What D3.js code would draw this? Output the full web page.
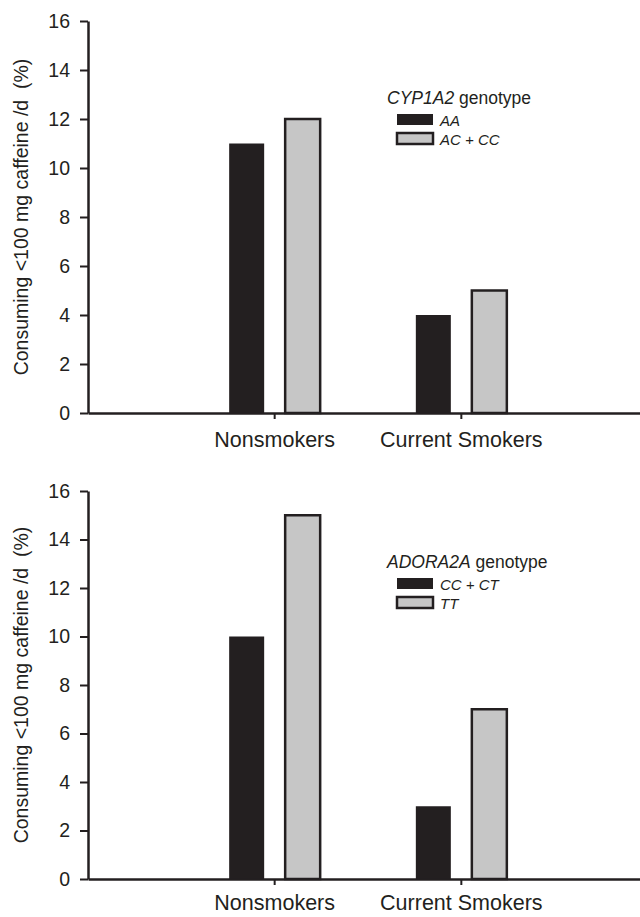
<!DOCTYPE html>
<html>
<head>
<meta charset="utf-8">
<script src="https://cdn.jsdelivr.net/npm/d3@7"></script>
<style>
  body { margin: 0; background: #fff; }
  svg { display: block; font-family: "Liberation Sans", Arial, Helvetica, sans-serif; }
  text { fill: #231f20; }
</style>
</head>
<body>
<div id="chart"></div>
<script>
// values
const categories = ["Nonsmokers", "Current Smokers"];
const yTicks = [0, 2, 4, 6, 8, 10, 12, 14, 16];

const cypGenotypes = ["AA", "AC + CC"];
const cypNonsmokers = [11, 12];
const cypSmokers = [4, 5];

const adoraGenotypes = ["CC + CT", "TT"];
const adoraNonsmokers = [10, 15];
const adoraSmokers = [3, 7];

const width = 640;
const height = 917;
const ink = "#231f20";
const barColors = ["#231f20", "#c6c6c6"];

const svg = d3.select("#chart")
    .append("svg")
    .attr("width", width)
    .attr("height", height);

function drawPanel(opts) {
    const rows = categories.map((c, i) => ({
        category: c,
        values: opts.genotypes.map((g, j) => ({ genotype: g, value: opts.series[i][j], idx: j }))
    }));

    const x = d3.scaleBand()
        .domain(categories)
        .range([88, 648])
        .paddingInner(0)
        .paddingOuter(0.5);

    const xInner = d3.scaleBand()
        .domain(opts.genotypes)
        .range([-45.5, 45.5])
        .paddingInner(0.375);

    const y = d3.scaleLinear()
        .domain([0, 16])
        .range([opts.bottom, opts.top]);

    const g = svg.append("g");

    // bars
    g.selectAll(".grp")
        .data(rows)
        .enter().append("g")
        .attr("class", "grp")
        .attr("transform", d => `translate(${x(d.category) + x.bandwidth() / 2},0)`)
        .selectAll("rect")
        .data(d => d.values)
        .enter().append("rect")
        .attr("x", d => xInner(d.genotype))
        .attr("width", xInner.bandwidth())
        .attr("y", d => y(d.value))
        .attr("height", d => y(0) - y(d.value))
        .attr("fill", d => barColors[d.idx])
        .attr("stroke", ink)
        .attr("stroke-width", d => d.idx === 0 ? 0 : 2.5);

    // y axis
    const yAxis = g.append("g")
        .attr("transform", "translate(88,0)")
        .call(d3.axisLeft(y).tickValues(yTicks).tickSize(8).tickSizeOuter(0).tickPadding(10));
    yAxis.select(".domain").attr("stroke", ink).attr("stroke-width", 2.5);
    yAxis.selectAll(".tick line").attr("stroke", ink).attr("stroke-width", 2);
    yAxis.selectAll(".tick text")
        .attr("font-size", 19.5)
        .attr("font-family", "Liberation Sans, Arial, sans-serif")
        .attr("fill", ink);

    // x axis
    const xAxis = g.append("g")
        .attr("transform", `translate(0,${opts.bottom})`)
        .call(d3.axisBottom(x).tickSize(6).tickSizeOuter(0).tickPadding(opts.labelPad));
    xAxis.select(".domain").attr("stroke", ink).attr("stroke-width", 2.5);
    xAxis.selectAll(".tick line").attr("stroke", ink).attr("stroke-width", 2);
    xAxis.selectAll(".tick text")
        .attr("font-size", 21.5)
        .attr("font-family", "Liberation Sans, Arial, sans-serif")
        .attr("fill", ink);

    // y title
    g.append("text")
        .attr("transform", `translate(28,${(opts.top + opts.bottom) / 2}) rotate(-90)`)
        .attr("text-anchor", "middle")
        .attr("font-size", 19.5)
        .style("white-space", "pre")
        .text("Consuming <100 mg caffeine /d  (%)");

    // legend
    const lg = g.append("g").attr("transform", `translate(387,${opts.legendY})`);
    const title = lg.append("text").attr("font-size", 17.5);
    title.append("tspan").attr("font-style", "italic").text(opts.gene);
    title.append("tspan").text(" genotype");

    const items = lg.selectAll(".item")
        .data(opts.genotypes)
        .enter().append("g")
        .attr("class", "item")
        .attr("transform", (d, i) => `translate(10,${10 + i * 19})`);
    items.append("rect")
        .attr("width", 36)
        .attr("height", 11)
        .attr("fill", (d, i) => barColors[i])
        .attr("stroke", ink)
        .attr("stroke-width", (d, i) => i === 0 ? 0 : 2.5);
    items.append("text")
        .attr("x", 43)
        .attr("y", 12)
        .attr("font-size", 15)
        .attr("font-style", "italic")
        .text(d => d);
}

drawPanel({
    top: 21, bottom: 413, legendY: 104, labelPad: 13,
    gene: "CYP1A2", genotypes: cypGenotypes,
    series: [cypNonsmokers, cypSmokers]
});

drawPanel({
    top: 491, bottom: 879, legendY: 568, labelPad: 10,
    gene: "ADORA2A", genotypes: adoraGenotypes,
    series: [adoraNonsmokers, adoraSmokers]
});
</script>
</body>
</html>
